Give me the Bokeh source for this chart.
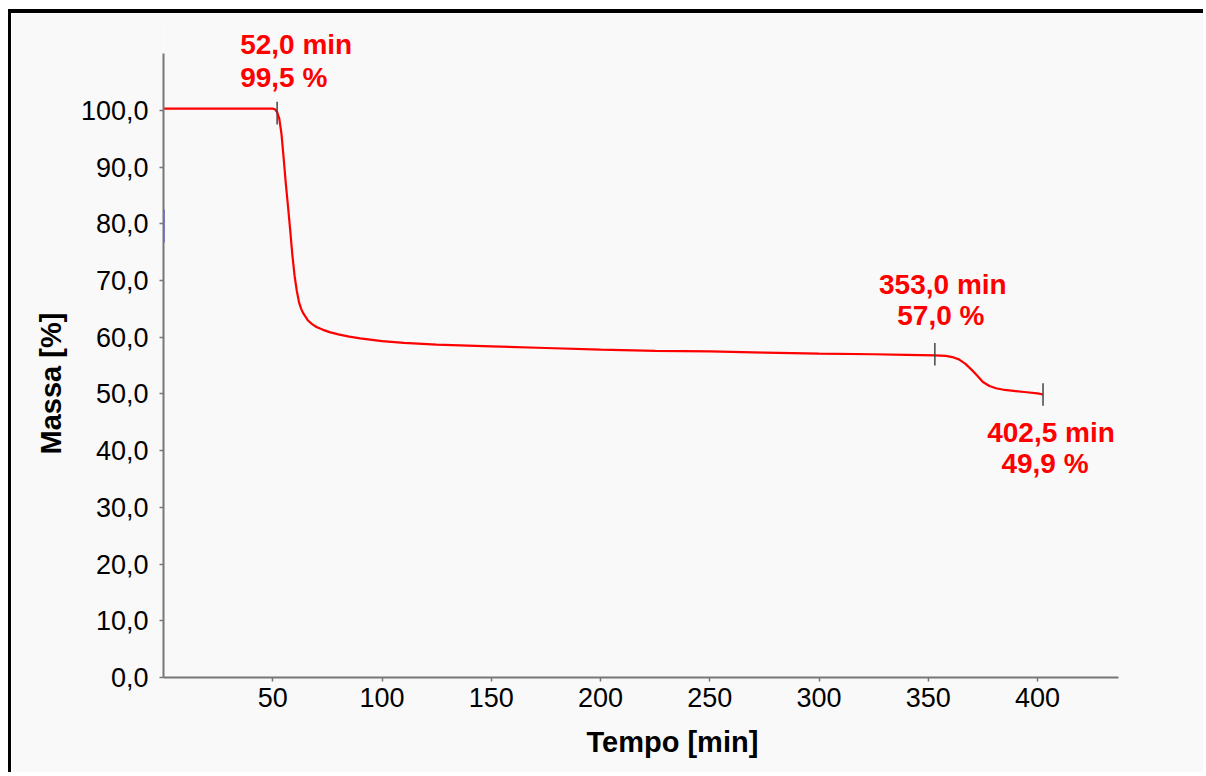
from bokeh.plotting import figure
from bokeh.models import Range1d, FixedTicker, Label, ColumnDataSource, Title
from bokeh.embed import file_html
from bokeh.resources import INLINE

# ---- data ----
tempo = [0, 10, 20, 30, 40, 48, 50, 51, 52, 53, 54, 55, 56, 57, 58, 59, 60, 61, 62, 63, 64,
         66, 68, 70, 73, 76, 80, 85, 90, 100, 110, 125, 150, 175, 200, 225, 250, 275, 300,
         325, 340, 353, 358, 361, 364, 367, 370, 372, 375, 378, 381, 385, 390, 395, 400, 402.5]
massa = [100.3, 100.3, 100.3, 100.3, 100.3, 100.3, 100.3, 100.2, 99.7, 98.5, 95.8, 91.5, 87.0,
         83.0, 78.8, 74.4, 70.8, 68.2, 66.2, 65.0, 64.2, 63.0, 62.3, 61.8, 61.3, 60.9, 60.5,
         60.1, 59.8, 59.3, 59.0, 58.7, 58.4, 58.1, 57.8, 57.6, 57.5, 57.3, 57.1, 57.0, 56.9,
         56.8, 56.7, 56.5, 56.1, 55.3, 54.2, 53.4, 52.1, 51.4, 51.0, 50.7, 50.5, 50.3, 50.1, 49.9]

ann_t = [52.0, 353.0, 402.5]
ann_m = [99.5, 57.0, 49.9]

x_ticks = [50, 100, 150, 200, 250, 300, 350, 400]
y_ticks = [0, 10, 20, 30, 40, 50, 60, 70, 80, 90, 100]
x_label = "Tempo [min]"
y_label = "Massa [%]"

def fmt(v):
    return f"{v:.1f}".replace(".", ",")

FONT = "Liberation Sans"
BG = "#f9f9f9"

p = figure(width=1195, height=763, output_backend="svg", toolbar_location=None,
           x_range=Range1d(0, 464.5), y_range=Range1d(0, 116.2),
           background_fill_color=BG, border_fill_color=BG,
           min_border_left=152, min_border_top=5, min_border_right=28, min_border_bottom=99)
p.styles = {"margin-left": "8px", "margin-top": "9px",
            "border-top": "4px solid black", "border-left": "3px solid black"}
p.outline_line_color = None
p.grid.visible = False

for ax in (p.xaxis[0], p.yaxis[0]):
    ax.axis_line_color = "#777777"
    ax.axis_line_width = 2
    ax.major_tick_line_color = "#777777"
    ax.major_tick_line_width = 1.5
    ax.major_tick_out = 4
    ax.major_tick_in = 0
    ax.minor_tick_line_color = None
    ax.major_label_text_font = FONT
    ax.major_label_text_font_size = "27px"
    ax.major_label_text_color = "black"

p.xaxis.bounds = (0, 437)
p.yaxis.bounds = (0, 110)
p.xaxis.ticker = FixedTicker(ticks=x_ticks)
p.yaxis.ticker = FixedTicker(ticks=y_ticks)
p.xaxis.major_label_overrides = {t: str(t) for t in x_ticks}
p.yaxis.major_label_overrides = {t: fmt(t) for t in y_ticks}
p.xaxis.major_label_standoff = 6
p.yaxis.major_label_standoff = 11

# axis titles (as side titles so they can be placed like the original)
p.add_layout(Title(text=x_label, align="left", offset=423, text_font=FONT,
                   text_font_style="bold", text_font_size="29px", text_color="black",
                   standoff=28), "below")
p.add_layout(Title(text=y_label, align="left", offset=223, text_font=FONT,
                   text_font_style="bold", text_font_size="29px", text_color="black",
                   standoff=22), "left")

# small blue marker on y axis
p.segment(x0=[0], y0=[76.7], x1=[0], y1=[82.5], line_color="#8080ff", line_width=3)

src = ColumnDataSource(dict(t=tempo, m=massa))
p.line("t", "m", source=src, line_color="red", line_width=2.2)

# vertical markers
p.segment(x0=ann_t, y0=[m - 2.0 for m in ann_m], x1=ann_t, y1=[m + 2.0 for m in ann_m],
          line_color="#444444", line_width=1.5)

# annotations: (align, dx1, dy1, dx2, dy2) in screen px, dy positive = up
specs = [("left", -37, 69, -37, 36), ("center", 8, 70, 6, 39), ("center", 8, -38, 2, -69)]
for t, m, (al, dx1, dy1, dx2, dy2) in zip(ann_t, ann_m, specs):
    for txt, dx, dy in ((f"{fmt(t)} min", dx1, dy1), (f"{fmt(m)} %", dx2, dy2)):
        p.add_layout(Label(x=t, y=m, x_offset=dx, y_offset=dy, text=txt, text_align=al,
                           text_baseline="alphabetic", text_font=FONT, text_font_style="bold",
                           text_font_size="28px", text_color="red"))

open("out.html", "w").write(file_html(p, INLINE))
